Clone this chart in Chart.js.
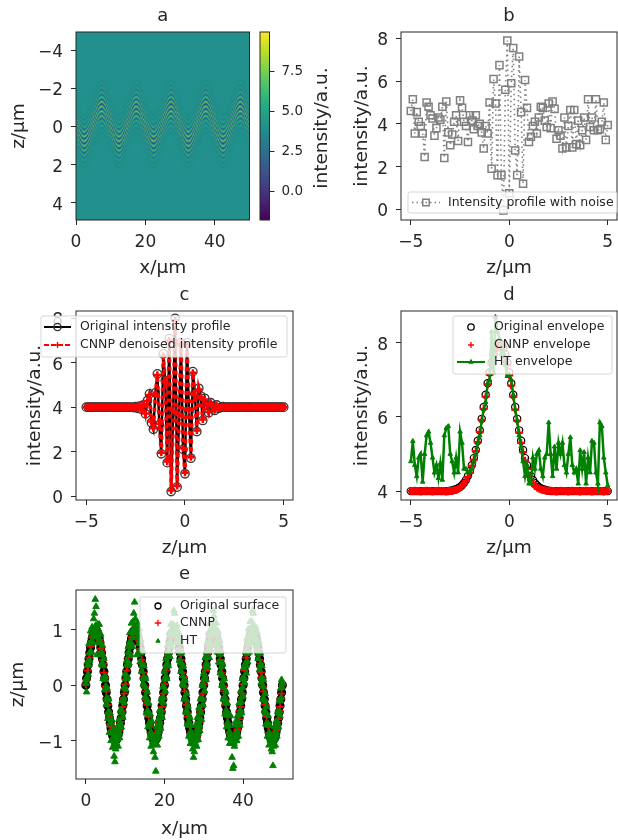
<!DOCTYPE html>
<html>
<head>
<meta charset="utf-8">
<script src="https://cdn.jsdelivr.net/npm/chart.js@4"></script>
<style>
  body { margin: 0; background: #fff; }
  #page { position: relative; width: 618px; height: 840px; overflow: hidden; }
  canvas { position: absolute; filter: blur(0.45px); }
</style>
</head>
<body>
<div id="page"></div>
<script>
// ---- tick labels
const zTicks = [-5, 0, 5];
const xTicks = [0, 20, 40];
const aYTicks = [-4, -2, 0, 2, 4];
const barTicks = [0, 2.5, 5, 7.5];
const bYTicks = [0, 2, 4, 6, 8];
const cYTicks = [0, 2, 4, 6, 8];
const dYTicks = [4, 6, 8];
const eYTicks = [-1, 0, 1];

// ---- colour bar
const viridis = ['#440154', '#482475', '#414487', '#355f8d', '#2a788e', '#21918c', '#22a884', '#44bf70', '#7ad151', '#bddf26', '#fde725'];
const barRange = [-1.8, 9.94];

// ---- depth axis shared by panels b, c, d
const zPos = [
  -5, -4.9, -4.8, -4.7, -4.6, -4.5, -4.4, -4.3, -4.2, -4.1,
  -4, -3.9, -3.8, -3.7, -3.6, -3.5, -3.4, -3.3, -3.2, -3.1,
  -3, -2.9, -2.8, -2.7, -2.6, -2.5, -2.4, -2.3, -2.2, -2.1,
  -2, -1.9, -1.8, -1.7, -1.6, -1.5, -1.4, -1.3, -1.2, -1.1,
  -1, -0.9, -0.8, -0.7, -0.6, -0.5, -0.4, -0.3, -0.2, -0.1,
  0, 0.1, 0.2, 0.3, 0.4, 0.5, 0.6, 0.7, 0.8, 0.9,
  1, 1.1, 1.2, 1.3, 1.4, 1.5, 1.6, 1.7, 1.8, 1.9,
  2, 2.1, 2.2, 2.3, 2.4, 2.5, 2.6, 2.7, 2.8, 2.9,
  3, 3.1, 3.2, 3.3, 3.4, 3.5, 3.6, 3.7, 3.8, 3.9,
  4, 4.1, 4.2, 4.3, 4.4, 4.5, 4.6, 4.7, 4.8, 4.9,
  5
];

// panel b
const noisyProfile = [
  4.6, 5.15, 3.55, 4.55, 4.1, 3.9, 3.55, 2.45, 5, 4.8,
  4.4, 4.25, 3.45, 3.8, 4.3, 4.2, 4.8, 2.4, 5.05, 3.6,
  3, 3.5, 4.1, 4.4, 3.2, 5.1, 4.75, 4.1, 3.9, 3.15,
  4.4, 4.15, 3.75, 4.4, 3.9, 4, 3.6, 2.85, 3.9, 3.55,
  5, 1.9, 6.1, 4.95, 1.6, 6.75, 1.6, -0.05, 5.6, 7.9,
  0.75, 5.9, 7.55, 2.75, 1.6, 7.15, 4.55, 1.2, 6.05, 4.75,
  3.15, 3.4, 3.9, 4.1, 3.55, 4.3, 4.8, 4.75, 4.15, 3.85,
  4.95, 3.8, 5.05, 4.7, 3.3, 3.7, 3.45, 2.85, 4.3, 2.9,
  3.9, 4.65, 2.9, 4.65, 3.05, 4.15, 3, 3.7, 4.3, 3.25,
  5.15, 3.85, 4.3, 3.7, 5.15, 3.7, 3.75, 4.1, 5, 3.25,
  3.95
];

// panel c
const originalProfile = [
  4, 4, 4, 4, 4, 4, 4, 4, 4, 4,
  4, 4, 4, 4, 4, 4, 4, 4, 4, 4,
  4, 4, 4, 4, 3.98, 4.02, 3.95, 4.05, 3.9, 4.1,
  3.7, 4.3, 4.6, 3.3, 3, 4.65, 5.5, 3.2, 1.9, 6.4,
  5.2, 1.5, 7.1, 0.2, 3.8, 8, 0.4, 3.6, 6.9, 2.1,
  1, 6.9, 3.8, 1.7, 5.6, 4.6, 2.9, 4.85, 4.5, 3.4,
  4.4, 4.1, 3.75, 4.2, 4.05, 3.85, 4.1, 3.95, 3.98, 4.02,
  4, 4, 4, 4, 4, 4, 4, 4, 4, 4,
  4, 4, 4, 4, 4, 4, 4, 4, 4, 4,
  4, 4, 4, 4, 4, 4, 4, 4, 4, 4,
  4
];
const denoisedProfile = [
  4, 4.01, 4, 3.99, 4, 4, 4.01, 4, 4, 3.99,
  4, 4, 4.01, 4, 3.99, 4, 4, 4.01, 4, 4,
  3.99, 4, 4.01, 4, 3.97, 4.03, 3.96, 4.06, 3.88, 4.12,
  3.72, 4.28, 4.55, 3.35, 3.05, 4.6, 5.45, 3.25, 1.95, 6.3,
  5.15, 1.55, 7, 0.25, 3.85, 7.9, 0.45, 3.65, 6.85, 2.15,
  1.05, 6.8, 3.85, 1.75, 5.55, 4.55, 2.95, 4.8, 4.45, 3.45,
  4.35, 4.08, 3.78, 4.18, 4.03, 3.88, 4.08, 3.97, 3.99, 4.01,
  4, 4, 3.99, 4, 4.01, 4, 4, 3.99, 4, 4.01,
  4, 4, 3.99, 4, 4, 4.01, 4, 4, 3.99, 4,
  4.01, 4, 4, 4, 3.99, 4, 4.01, 4, 4, 4,
  4
];

// panel d
const originalEnvelope = [
  4, 4, 4, 4, 4, 4, 4, 4, 4, 4,
  4, 4, 4, 4, 4, 4, 4, 4, 4, 4,
  4.01, 4.02, 4.04, 4.05, 4.08, 4.11, 4.16, 4.22, 4.3, 4.41,
  4.54, 4.7, 4.89, 5.11, 5.36, 5.64, 5.95, 6.27, 6.6, 6.91,
  7.2, 7.47, 7.69, 7.86, 7.96, 8, 7.96, 7.86, 7.69, 7.47,
  7.2, 6.91, 6.6, 6.27, 5.95, 5.64, 5.36, 5.11, 4.89, 4.7,
  4.54, 4.41, 4.3, 4.22, 4.16, 4.11, 4.08, 4.05, 4.04, 4.02,
  4.01, 4, 4, 4, 4, 4, 4, 4, 4, 4,
  4, 4, 4, 4, 4, 4, 4, 4, 4, 4,
  4, 4, 4, 4, 4, 4, 4, 4, 4, 4,
  4
];
const cnnpEnvelope = [
  4, 4, 4.01, 4, 4, 3.99, 4, 4, 4.01, 4,
  4, 3.99, 4, 4, 4.01, 4, 4, 4, 3.99, 4,
  4, 4.01, 4.02, 4.03, 4.06, 4.1, 4.14, 4.2, 4.28, 4.38,
  4.5, 4.68, 4.85, 5.08, 5.32, 5.6, 5.92, 6.22, 6.55, 6.88,
  7.15, 7.42, 7.65, 7.82, 7.92, 7.96, 7.92, 7.8, 7.62, 7.4,
  7.12, 6.85, 6.55, 6.2, 5.9, 5.58, 5.3, 5.05, 4.82, 4.6,
  4.42, 4.3, 4.2, 4.14, 4.1, 4.07, 4.05, 4.03, 4.02, 4.01,
  4, 4.01, 4, 4, 3.99, 4, 4.01, 4, 4, 4,
  3.99, 4, 4.01, 4, 4, 4, 3.99, 4, 4, 4.01,
  4, 4, 3.99, 4, 4, 4.01, 4, 4, 3.99, 4,
  4
];
const htEnvelope = [
  4.8, 5.35, 4.7, 4.4, 4.9, 5, 4.25, 5, 5.5, 5.6,
  5.3, 4.9, 4.5, 4.7, 4.35, 4.75, 4.3, 5.5, 5.7, 5.75,
  5, 4.8, 4.5, 4.9, 4.5, 5.6, 5.3, 4.6, 4.6, 4.5,
  4.5, 4.6, 4.8, 5, 5.3, 5.5, 5.9, 6.2, 6.4, 6.9,
  7, 8.3, 7.2, 8.7, 8.3, 8.1, 7.7, 7.8, 7.4, 7.1,
  7.1, 7, 6.6, 6.2, 5.9, 5.5, 5.2, 4.8, 4.4, 4.7,
  4.2, 4.2, 4.9, 4.6, 5, 5.1, 4.6, 4.4, 4.9, 5,
  5.85, 5, 4.4, 5.2, 4.6, 5.3, 5, 5.3, 4.7, 4.5,
  5, 5.45, 4.7, 4.5, 4.6, 4.2, 5.1, 4.6, 5.05, 4.2,
  4.9, 4.5, 5.35, 5.3, 4.5, 4.2, 5.85, 5.75, 4.9, 4.5,
  4.15
];

// panel e: lateral position and surface height
const xPos = [
  0, 0.2, 0.4, 0.6, 0.8, 1, 1.2, 1.4, 1.6, 1.8, 2, 2.2, 2.4, 2.6, 2.8, 3, 3.2, 3.4, 3.6, 3.8, 4, 4.2, 4.4, 4.6, 4.8,
  5, 5.2, 5.4, 5.6, 5.8, 6, 6.2, 6.4, 6.6, 6.8, 7, 7.2, 7.4, 7.6, 7.8, 8, 8.2, 8.4, 8.6, 8.8, 9, 9.2, 9.4, 9.6, 9.8,
  10, 10.2, 10.4, 10.6, 10.8, 11, 11.2, 11.4, 11.6, 11.8, 12, 12.2, 12.4, 12.6, 12.8, 13, 13.2, 13.4, 13.6, 13.8, 14, 14.2, 14.4, 14.6, 14.8,
  15, 15.2, 15.4, 15.6, 15.8, 16, 16.2, 16.4, 16.6, 16.8, 17, 17.2, 17.4, 17.6, 17.8, 18, 18.2, 18.4, 18.6, 18.8, 19, 19.2, 19.4, 19.6, 19.8,
  20, 20.2, 20.4, 20.6, 20.8, 21, 21.2, 21.4, 21.6, 21.8, 22, 22.2, 22.4, 22.6, 22.8, 23, 23.2, 23.4, 23.6, 23.8, 24, 24.2, 24.4, 24.6, 24.8,
  25, 25.2, 25.4, 25.6, 25.8, 26, 26.2, 26.4, 26.6, 26.8, 27, 27.2, 27.4, 27.6, 27.8, 28, 28.2, 28.4, 28.6, 28.8, 29, 29.2, 29.4, 29.6, 29.8,
  30, 30.2, 30.4, 30.6, 30.8, 31, 31.2, 31.4, 31.6, 31.8, 32, 32.2, 32.4, 32.6, 32.8, 33, 33.2, 33.4, 33.6, 33.8, 34, 34.2, 34.4, 34.6, 34.8,
  35, 35.2, 35.4, 35.6, 35.8, 36, 36.2, 36.4, 36.6, 36.8, 37, 37.2, 37.4, 37.6, 37.8, 38, 38.2, 38.4, 38.6, 38.8, 39, 39.2, 39.4, 39.6, 39.8,
  40, 40.2, 40.4, 40.6, 40.8, 41, 41.2, 41.4, 41.6, 41.8, 42, 42.2, 42.4, 42.6, 42.8, 43, 43.2, 43.4, 43.6, 43.8, 44, 44.2, 44.4, 44.6, 44.8,
  45, 45.2, 45.4, 45.6, 45.8, 46, 46.2, 46.4, 46.6, 46.8, 47, 47.2, 47.4, 47.6, 47.8, 48, 48.2, 48.4, 48.6, 48.8, 49, 49.2, 49.4, 49.6, 49.8,
  50
];
const originalSurface = [
  0, 0.13, 0.25, 0.37, 0.48, 0.59, 0.68, 0.77, 0.84, 0.9, 0.95, 0.98, 1, 1, 0.98, 0.95, 0.9, 0.84, 0.77, 0.68, 0.59, 0.48, 0.37, 0.25, 0.13,
  0, -0.13, -0.25, -0.37, -0.48, -0.59, -0.68, -0.77, -0.84, -0.9, -0.95, -0.98, -1, -1, -0.98, -0.95, -0.9, -0.84, -0.77, -0.68, -0.59, -0.48, -0.37, -0.25, -0.13,
  0, 0.13, 0.25, 0.37, 0.48, 0.59, 0.68, 0.77, 0.84, 0.9, 0.95, 0.98, 1, 1, 0.98, 0.95, 0.9, 0.84, 0.77, 0.68, 0.59, 0.48, 0.37, 0.25, 0.13,
  0, -0.13, -0.25, -0.37, -0.48, -0.59, -0.68, -0.77, -0.84, -0.9, -0.95, -0.98, -1, -1, -0.98, -0.95, -0.9, -0.84, -0.77, -0.68, -0.59, -0.48, -0.37, -0.25, -0.13,
  0, 0.13, 0.25, 0.37, 0.48, 0.59, 0.68, 0.77, 0.84, 0.9, 0.95, 0.98, 1, 1, 0.98, 0.95, 0.9, 0.84, 0.77, 0.68, 0.59, 0.48, 0.37, 0.25, 0.13,
  0, -0.13, -0.25, -0.37, -0.48, -0.59, -0.68, -0.77, -0.84, -0.9, -0.95, -0.98, -1, -1, -0.98, -0.95, -0.9, -0.84, -0.77, -0.68, -0.59, -0.48, -0.37, -0.25, -0.13,
  0, 0.13, 0.25, 0.37, 0.48, 0.59, 0.68, 0.77, 0.84, 0.9, 0.95, 0.98, 1, 1, 0.98, 0.95, 0.9, 0.84, 0.77, 0.68, 0.59, 0.48, 0.37, 0.25, 0.13,
  0, -0.13, -0.25, -0.37, -0.48, -0.59, -0.68, -0.77, -0.84, -0.9, -0.95, -0.98, -1, -1, -0.98, -0.95, -0.9, -0.84, -0.77, -0.68, -0.59, -0.48, -0.37, -0.25, -0.13,
  0, 0.13, 0.25, 0.37, 0.48, 0.59, 0.68, 0.77, 0.84, 0.9, 0.95, 0.98, 1, 1, 0.98, 0.95, 0.9, 0.84, 0.77, 0.68, 0.59, 0.48, 0.37, 0.25, 0.13,
  0, -0.13, -0.25, -0.37, -0.48, -0.59, -0.68, -0.77, -0.84, -0.9, -0.95, -0.98, -1, -1, -0.98, -0.95, -0.9, -0.84, -0.77, -0.68, -0.59, -0.48, -0.37, -0.25, -0.13,
  0
];
const cnnpSurface = [
  0.02, 0.1, 0.27, 0.35, 0.5, 0.57, 0.7, 0.75, 0.86, 0.88, 0.97, 0.96, 1.03, 0.98, 1, 0.93, 0.92, 0.82, 0.79, 0.66, 0.61, 0.46, 0.39, 0.23, 0.15,
  -0.02, -0.11, -0.27, -0.35, -0.5, -0.57, -0.7, -0.75, -0.86, -0.88, -0.97, -0.96, -1.03, -0.98, -1, -0.93, -0.92, -0.82, -0.79, -0.66, -0.61, -0.46, -0.39, -0.23, -0.15,
  0.02, 0.11, 0.27, 0.35, 0.5, 0.57, 0.7, 0.75, 0.86, 0.88, 0.97, 0.96, 1.02, 0.98, 1, 0.93, 0.92, 0.82, 0.79, 0.66, 0.61, 0.46, 0.39, 0.23, 0.15,
  -0.02, -0.11, -0.27, -0.35, -0.5, -0.57, -0.7, -0.75, -0.86, -0.88, -0.97, -0.96, -1.02, -0.98, -1, -0.93, -0.92, -0.82, -0.79, -0.66, -0.61, -0.46, -0.39, -0.23, -0.15,
  0.02, 0.11, 0.27, 0.35, 0.5, 0.57, 0.7, 0.75, 0.86, 0.88, 0.97, 0.96, 1.02, 0.98, 1, 0.93, 0.92, 0.82, 0.79, 0.66, 0.61, 0.46, 0.39, 0.23, 0.15,
  -0.02, -0.11, -0.27, -0.35, -0.5, -0.57, -0.7, -0.75, -0.86, -0.88, -0.97, -0.96, -1.02, -0.98, -1, -0.93, -0.92, -0.82, -0.79, -0.66, -0.61, -0.46, -0.39, -0.23, -0.15,
  0.02, 0.11, 0.27, 0.35, 0.5, 0.57, 0.7, 0.75, 0.86, 0.88, 0.97, 0.96, 1.02, 0.98, 1, 0.93, 0.92, 0.82, 0.79, 0.66, 0.61, 0.46, 0.39, 0.23, 0.15,
  -0.02, -0.11, -0.27, -0.35, -0.5, -0.57, -0.7, -0.75, -0.86, -0.88, -0.97, -0.96, -1.02, -0.98, -1, -0.93, -0.92, -0.82, -0.79, -0.66, -0.61, -0.46, -0.39, -0.23, -0.15,
  0.02, 0.11, 0.27, 0.35, 0.5, 0.57, 0.7, 0.75, 0.86, 0.88, 0.97, 0.96, 1.02, 0.98, 1, 0.93, 0.92, 0.82, 0.79, 0.66, 0.61, 0.46, 0.39, 0.23, 0.15,
  -0.02, -0.11, -0.27, -0.35, -0.5, -0.57, -0.7, -0.75, -0.86, -0.88, -0.97, -0.96, -1.02, -0.98, -1, -0.93, -0.92, -0.82, -0.79, -0.66, -0.61, -0.46, -0.39, -0.23, -0.15,
  0
];
const htSurface = [
  0.03, -0.12, 0.42, 0.2, 0.75, 0.45, 0.98, 0.6, 1.05, 0.78, 1.2, 1.3, 1.55, 1.42, 0.55, 1.1, 0.78, 1.1, 0.55, 0.92, 0.38, 0.72, 0.12, 0.48, -0.08,
  0.15, -0.35, -0.05, -0.6, -0.25, -0.85, -0.5, -1, -0.62, -1.12, -0.8, -1.28, -1.38, -1.15, -1.05, -0.75, -1.1, -0.62, -0.95, -0.45, -0.75, -0.28, -0.58, -0.05, -0.32,
  0.2, -0.08, 0.45, 0.15, 0.7, 0.4, 0.95, 0.55, 1.12, 0.7, 1.15, 1.3, 1.5, 1.2, 1.05, 0.55, 1.12, 0.6, 1.02, 0.42, 0.82, 0.25, 0.62, 0.02, 0.35,
  -0.22, 0.12, -0.5, -0.12, -0.75, -0.32, -0.95, -0.52, -1.1, -0.65, -1.02, -1.2, -1.05, -1.3, -1.55, -0.75, -1.08, -0.62, -0.92, -0.45, -0.78, -0.25, -0.58, -0.02, -0.32,
  0.25, -0.1, 0.48, 0.12, 0.72, 0.35, 0.95, 0.52, 1.1, 0.7, 1.02, 1.1, 1.35, 1.3, 1.05, 0.78, 1.08, 0.62, 0.95, 0.45, 0.8, 0.25, 0.6, 0.02, 0.35,
  -0.25, 0.1, -0.48, -0.15, -0.7, -0.38, -0.92, -0.58, -1.05, -0.72, -0.92, -1.15, -1.3, -1.2, -1.05, -0.72, -1.1, -0.58, -0.98, -0.4, -0.82, -0.25, -0.62, 0, -0.35,
  0.22, -0.1, 0.5, 0.1, 0.75, 0.32, 0.95, 0.5, 1.12, 0.65, 1.02, 1.1, 1.35, 1.25, 1.05, 0.72, 1.12, 0.6, 0.98, 0.42, 0.82, 0.22, 0.62, 0, 0.38,
  -0.25, 0.12, -0.52, -0.12, -0.75, -0.32, -0.95, -0.55, -1.05, -0.55, -1.05, -1.3, -1.5, -1.45, -1.1, -0.72, -0.65, -1, -0.55, -0.92, -0.32, -0.72, -0.1, -0.5, 0.12,
  -0.2, 0.32, 0.05, 0.6, 0.22, 0.85, 0.42, 1.02, 0.6, 1.15, 0.85, 1.15, 1.35, 1.3, 1.02, 0.8, 1.05, 0.65, 0.95, 0.48, 0.78, 0.28, 0.58, 0.05, 0.35,
  -0.25, 0.1, -0.45, -0.15, -0.7, -0.38, -0.92, -0.55, -1.08, -0.72, -1, -1.15, -1.2, -1.45, -1.1, -0.75, -1.08, -0.65, -0.92, -0.48, -0.75, -0.28, -0.55, -0.05, 0.1,
  0.05
];
// HT samples that fall between the ones above
const htMidX = [
  0.1, 0.3, 0.5, 0.7, 0.9, 1.1, 1.3, 1.5, 1.7, 1.9, 2.1, 2.3, 2.5, 2.7, 2.9, 3.1, 3.3, 3.5, 3.7, 3.9, 4.1, 4.3, 4.5, 4.7, 4.9,
  5.1, 5.3, 5.5, 5.7, 5.9, 6.1, 6.3, 6.5, 6.7, 6.9, 7.1, 7.3, 7.5, 7.7, 7.9, 8.1, 8.3, 8.5, 8.7, 8.9, 9.1, 9.3, 9.5, 9.7, 9.9,
  10.1, 10.3, 10.5, 10.7, 10.9, 11.1, 11.3, 11.5, 11.7, 11.9, 12.1, 12.3, 12.5, 12.7, 12.9, 13.1, 13.3, 13.5, 13.7, 13.9, 14.1, 14.3, 14.5, 14.7, 14.9,
  15.1, 15.3, 15.5, 15.7, 15.9, 16.1, 16.3, 16.5, 16.7, 16.9, 17.1, 17.3, 17.5, 17.7, 17.9, 18.1, 18.3, 18.5, 18.7, 18.9, 19.1, 19.3, 19.5, 19.7, 19.9,
  20.1, 20.3, 20.5, 20.7, 20.9, 21.1, 21.3, 21.5, 21.7, 21.9, 22.1, 22.3, 22.5, 22.7, 22.9, 23.1, 23.3, 23.5, 23.7, 23.9, 24.1, 24.3, 24.5, 24.7, 24.9,
  25.1, 25.3, 25.5, 25.7, 25.9, 26.1, 26.3, 26.5, 26.7, 26.9, 27.1, 27.3, 27.5, 27.7, 27.9, 28.1, 28.3, 28.5, 28.7, 28.9, 29.1, 29.3, 29.5, 29.7, 29.9,
  30.1, 30.3, 30.5, 30.7, 30.9, 31.1, 31.3, 31.5, 31.7, 31.9, 32.1, 32.3, 32.5, 32.7, 32.9, 33.1, 33.3, 33.5, 33.7, 33.9, 34.1, 34.3, 34.5, 34.7, 34.9,
  35.1, 35.3, 35.5, 35.7, 35.9, 36.1, 36.3, 36.5, 36.7, 36.9, 37.1, 37.3, 37.5, 37.7, 37.9, 38.1, 38.3, 38.5, 38.7, 38.9, 39.1, 39.3, 39.5, 39.7, 39.9,
  40.1, 40.3, 40.5, 40.7, 40.9, 41.1, 41.3, 41.5, 41.7, 41.9, 42.1, 42.3, 42.5, 42.7, 42.9, 43.1, 43.3, 43.5, 43.7, 43.9, 44.1, 44.3, 44.5, 44.7, 44.9,
  45.1, 45.3, 45.5, 45.7, 45.9, 46.1, 46.3, 46.5, 46.7, 46.9, 47.1, 47.3, 47.5, 47.7, 47.9, 48.1, 48.3, 48.5, 48.7, 48.9, 49.1, 49.3, 49.5, 49.7, 49.9
];
const htMidSurface = [
  0.1, 0.15, 0.36, 0.38, 0.58, 0.6, 0.78, 0.76, 0.94, 0.88, 1.02, 0.95, 1.08, 0.95, 1.03, 0.88, 0.92, 0.76, 0.78, 0.6, 0.58, 0.38, 0.35, 0.15, 0.1,
  -0.02, -0.23, -0.27, -0.48, -0.5, -0.7, -0.68, -0.86, -0.84, -0.98, -0.93, -1.05, -0.95, -1.05, -0.92, -0.98, -0.82, -0.86, -0.68, -0.7, -0.5, -0.48, -0.27, -0.23, -0.02,
  0.12, 0.14, 0.38, 0.36, 0.6, 0.58, 0.8, 0.74, 0.95, 0.86, 1.03, 0.96, 1.06, 0.97, 1.02, 0.86, 0.94, 0.75, 0.8, 0.58, 0.6, 0.36, 0.37, 0.14, 0.12,
  -0.03, -0.22, -0.29, -0.46, -0.52, -0.68, -0.7, -0.84, -0.86, -0.95, -0.95, -1.03, -0.97, -1.04, -0.94, -0.96, -0.84, -0.84, -0.7, -0.68, -0.52, -0.46, -0.29, -0.22, -0.03,
  0.11, 0.16, 0.35, 0.4, 0.57, 0.62, 0.77, 0.78, 0.93, 0.9, 1, 0.97, 1.05, 0.96, 1, 0.9, 0.91, 0.78, 0.77, 0.62, 0.57, 0.4, 0.34, 0.17, 0.09,
  -0.01, -0.24, -0.26, -0.5, -0.49, -0.72, -0.67, -0.88, -0.83, -0.97, -0.92, -1.06, -0.94, -1.03, -0.91, -0.99, -0.8, -0.87, -0.66, -0.72, -0.48, -0.5, -0.25, -0.25, -0.01,
  0.1, 0.17, 0.34, 0.41, 0.56, 0.63, 0.76, 0.79, 0.92, 0.91, 1.01, 0.98, 1.04, 0.98, 0.99, 0.91, 0.9, 0.79, 0.76, 0.63, 0.56, 0.41, 0.33, 0.18, 0.08,
  -0.04, -0.21, -0.3, -0.45, -0.53, -0.67, -0.72, -0.83, -0.87, -0.94, -0.96, -1.02, -0.98, -1.05, -0.95, -0.95, -0.85, -0.83, -0.71, -0.67, -0.53, -0.45, -0.3, -0.21, -0.04,
  0.13, 0.13, 0.39, 0.35, 0.61, 0.57, 0.81, 0.73, 0.96, 0.85, 1.04, 0.94, 1.07, 0.94, 1.04, 0.85, 0.95, 0.73, 0.81, 0.57, 0.61, 0.35, 0.38, 0.13, 0.13,
  -0.02, -0.24, -0.28, -0.49, -0.51, -0.71, -0.69, -0.87, -0.85, -0.99, -0.94, -1.04, -0.96, -1.06, -0.93, -0.97, -0.83, -0.85, -0.69, -0.69, -0.51, -0.47, -0.28, -0.22, -0.03
];

// panel a: one fringe packet, it sits on the surface in every column
const fringeOffset = [
  -1.5, -1.45, -1.4, -1.35, -1.3, -1.25, -1.2, -1.15, -1.1, -1.05,
  -1, -0.95, -0.9, -0.85, -0.8, -0.75, -0.7, -0.65, -0.6, -0.55,
  -0.5, -0.45, -0.4, -0.35, -0.3, -0.25, -0.2, -0.15, -0.1, -0.05,
  0,
  0.05, 0.1, 0.15, 0.2, 0.25, 0.3, 0.35, 0.4, 0.45, 0.5,
  0.55, 0.6, 0.65, 0.7, 0.75, 0.8, 0.85, 0.9, 0.95, 1,
  1.05, 1.1, 1.15, 1.2, 1.25, 1.3, 1.35, 1.4, 1.45, 1.5
];
const fringeValue = [
  4.15, 4.06, 3.81, 3.77, 4.1, 4.4, 4.15, 3.55, 3.47, 4.23,
  4.88, 4.31, 3.08, 2.96, 4.44, 5.59, 4.55, 2.43, 2.28, 4.71,
  6.48, 4.82, 1.73, 1.61, 4.95, 7.2, 5.02, 1.26, 1.21, 5.08,
  7.5,
  5.08, 1.21, 1.26, 5.02, 7.2, 4.95, 1.61, 1.73, 4.82, 6.48,
  4.71, 2.28, 2.43, 4.55, 5.59, 4.44, 2.96, 3.08, 4.31, 4.88,
  4.23, 3.47, 3.55, 4.15, 4.4, 4.1, 3.77, 3.81, 4.06, 4.15
];

const FONT = 'DejaVu Sans';
const INK = '#262626';
const zip = (xs, ys) => xs.map((x, i) => ({ x: x, y: ys[i] }));
const minus = v => String(v).replace('-', '\u2212');

function viridisAt(v) {
  const t = Math.max(0, Math.min(0.9999, (v - barRange[0]) / (barRange[1] - barRange[0]))) * (viridis.length - 1);
  const i = Math.floor(t), f = t - i;
  const ch = (hex, k) => parseInt(hex.substr(1 + k * 2, 2), 16);
  const mix = k => Math.round(ch(viridis[i], k) * (1 - f) + ch(viridis[i + 1], k) * f);
  return 'rgb(' + mix(0) + ',' + mix(1) + ',' + mix(2) + ')';
}

// frame, field colour, legend box and rotated side title
function decor(spec) {
  return {
    id: 'decor',
    beforeDatasetsDraw(chart) {
      if (!spec.field) return;
      const a = chart.chartArea;
      chart.ctx.fillStyle = spec.field;
      chart.ctx.fillRect(a.left, a.top, a.width, a.height);
    },
    afterDatasetsDraw(chart) {
      const ctx = chart.ctx, a = chart.chartArea;
      ctx.save();
      ctx.strokeStyle = INK;
      ctx.lineWidth = 1;
      ctx.strokeRect(a.left, a.top, a.width, a.height);
      if (spec.legend) drawLegend(ctx, spec);
      if (spec.sideTitle) {
        ctx.translate(spec.sideTitle.x - spec.left, spec.sideTitle.y - spec.top);
        ctx.rotate(-Math.PI / 2);
        ctx.font = '18.5px "' + FONT + '"';
        ctx.fillStyle = INK;
        ctx.textAlign = 'center';
        ctx.textBaseline = 'middle';
        ctx.fillText(spec.sideTitle.text, 0, 0);
      }
      ctx.restore();
    }
  };
}

function drawLegend(ctx, spec) {
  const L = spec.legend;
  const ox = spec.left, oy = spec.top;
  ctx.beginPath();
  ctx.roundRect(L.box[0] - ox, L.box[1] - oy, L.box[2], L.box[3], 2);
  ctx.fillStyle = 'rgba(255,255,255,0.8)';
  ctx.fill();
  ctx.strokeStyle = 'rgba(204,204,204,0.8)';
  ctx.lineWidth = 1;
  ctx.stroke();
  L.rows.forEach(r => {
    const y = r.y - oy;
    if (r.line) {
      ctx.beginPath();
      ctx.setLineDash(r.line.dash || []);
      ctx.strokeStyle = r.line.color;
      ctx.lineWidth = r.line.width;
      ctx.moveTo(L.handle[0] - ox, y);
      ctx.lineTo(L.handle[1] - ox, y);
      ctx.stroke();
      ctx.setLineDash([]);
    }
    ctx.strokeStyle = r.mark.color;
    ctx.fillStyle = r.mark.fill || 'rgba(0,0,0,0)';
    ctx.lineWidth = r.mark.width;
    Chart.helpers.drawPoint(ctx, { pointStyle: r.mark.style, radius: r.mark.radius, rotation: 0, borderWidth: r.mark.width }, (L.handle[0] + L.handle[1]) / 2 - ox, y);
    ctx.fillStyle = INK;
    ctx.font = '12.5px "' + FONT + '"';
    ctx.textAlign = 'left';
    ctx.textBaseline = 'middle';
    ctx.fillText(r.label, L.textX - ox, y);
  });
}

function axis(values, range, extra) {
  return Object.assign({
    type: 'linear',
    min: range[0],
    max: range[1],
    afterBuildTicks(scale) { scale.ticks = values.map(v => ({ value: v })); },
    grid: { drawOnChartArea: false, drawTicks: true, tickLength: 5, tickColor: INK, tickWidth: 1 },
    border: { display: false },
    ticks: { color: INK, font: { family: FONT, size: 17 }, padding: 7, maxRotation: 0, autoSkip: false, callback: minus }
  }, extra);
}

function panel(spec, datasets, xValues, xRange, xTitle, yValues, yRange, yTitle, yExtra) {
  const canvas = document.createElement('canvas');
  canvas.width = spec.width;
  canvas.height = spec.height;
  canvas.style.left = spec.left + 'px';
  canvas.style.top = spec.top + 'px';
  document.getElementById('page').appendChild(canvas);
  const p = spec.plot;
  const titleFont = { family: FONT, size: 18.5, weight: 'normal' };
  const yTickStyle = { color: INK, font: { family: FONT, size: 17 }, padding: 8, labelOffset: 2.5, autoSkip: false, callback: minus };
  new Chart(canvas, {
    type: 'scatter',
    data: { datasets: datasets },
    plugins: [decor(spec)],
    options: {
      responsive: false,
      animation: false,
      events: [],
      layout: { padding: { right: spec.left + spec.width - p.r, top: 0, left: 0, bottom: 0 } },
      plugins: {
        legend: { display: false },
        tooltip: { enabled: false },
        title: {
          display: true,
          text: spec.title,
          fullSize: false,
          color: INK,
          font: { family: FONT, size: 18, weight: 'normal' },
          padding: { top: p.t - spec.top - 26, bottom: 4.4 }
        }
      },
      scales: {
        x: axis(xValues, xRange, {
          title: { display: true, text: xTitle, color: INK, font: titleFont, padding: 0 },
          afterFit(s) { s.height = spec.top + spec.height - p.b; }
        }),
        y: axis(yValues, yRange, Object.assign({
          title: { display: true, text: yTitle, color: INK, font: titleFont, padding: 0 },
          ticks: yTickStyle,
          afterFit(s) { s.width = p.l - spec.left; }
        }, yExtra))
      }
    }
  });
}

// ---- panel a: heat map
const cells = [], cellColors = [];
xPos.forEach((x, i) => {
  const centre = originalSurface[i] * 0.91 - 0.13;
  fringeOffset.forEach((d, j) => {
    cells.push({ x: x, y: centre + d });
    cellColors.push(viridisAt(fringeValue[j]));
  });
});
panel(
  { title: 'a', left: 8, top: 0, width: 247, height: 279, plot: { l: 76, t: 32, r: 249.5, b: 220 }, field: viridisAt(4) },
  [{ data: cells, pointStyle: 'rect', pointRadius: 1, pointBorderWidth: 0, backgroundColor: cellColors, borderColor: 'rgba(0,0,0,0)' }],
  xTicks, [0, 50], 'x/\u03bcm', aYTicks, [-4.95, 4.9], 'z/\u03bcm', { reverse: true }
);

// ---- colour bar next to panel a
(function () {
  const spec = { left: 255, top: 0, width: 80, height: 279, plot: { l: 260, t: 32, r: 269.5, b: 220 }, sideTitle: { text: 'intensity/a.u.', x: 322, y: 128 } };
  const canvas = document.createElement('canvas');
  canvas.width = spec.width;
  canvas.height = spec.height;
  canvas.style.left = spec.left + 'px';
  canvas.style.top = spec.top + 'px';
  document.getElementById('page').appendChild(canvas);
  new Chart(canvas, {
    type: 'bar',
    data: {
      labels: [''],
      datasets: [{
        data: [barRange],
        barPercentage: 1,
        categoryPercentage: 1,
        backgroundColor(ctx) {
          const area = ctx.chart.chartArea;
          if (!area) return viridis[5];
          const g = ctx.chart.ctx.createLinearGradient(0, area.bottom, 0, area.top);
          viridis.forEach((c, i) => g.addColorStop(i / (viridis.length - 1), c));
          return g;
        }
      }]
    },
    plugins: [decor(spec)],
    options: {
      responsive: false,
      animation: false,
      events: [],
      layout: { padding: { left: spec.plot.l - spec.left, top: spec.plot.t - spec.top, bottom: spec.top + spec.height - spec.plot.b, right: 0 } },
      plugins: { legend: { display: false }, tooltip: { enabled: false } },
      scales: {
        x: { display: false },
        y: axis(barTicks, barRange, {
          position: 'right',
          ticks: { color: INK, font: { family: FONT, size: 13.5 }, padding: 7, labelOffset: 0.5, callback: v => v.toFixed(1) },
          afterFit(s) { s.width = spec.left + spec.width - spec.plot.r; }
        })
      }
    }
  });
})();

// ---- panel b
panel(
  { title: 'b', left: 351, top: 0, width: 281, height: 279, plot: { l: 401, t: 32, r: 617, b: 220 },
    legend: { box: [408, 192, 209, 21], handle: [412, 440], textX: 448, rows: [
      { label: 'Intensity profile with noise', y: 202.5, line: { color: '#808080', width: 1.5, dash: [1.5, 3] }, mark: { style: 'rect', radius: 4.6, color: '#808080', width: 1.5 } }
    ] } },
  [{ data: zip(zPos, noisyProfile), showLine: true, borderColor: '#808080', borderWidth: 1.6, borderDash: [1.5, 3.5],
     pointStyle: 'rect', pointRadius: 5, pointBorderWidth: 1.5, pointBorderColor: '#808080', pointBackgroundColor: 'rgba(0,0,0,0)' }],
  zTicks, [-5.5, 5.47], 'z/\u03bcm', bYTicks, [-0.5, 8.3], 'intensity/a.u.'
);

// ---- panel c
panel(
  { title: 'c', left: 24, top: 280, width: 306, height: 279, plot: { l: 76, t: 311, r: 293, b: 500 },
    legend: { box: [41, 316, 246, 41], handle: [44, 71], textX: 80, rows: [
      { label: 'Original intensity profile', y: 327, line: { color: '#000', width: 2 }, mark: { style: 'circle', radius: 3.6, color: '#333', width: 1.4 } },
      { label: 'CNNP denoised intensity profile', y: 345, line: { color: '#f00', width: 2, dash: [5, 2] }, mark: { style: 'cross', radius: 3, color: '#f00', width: 1.3 } }
    ] } },
  [
    { data: zip(zPos, denoisedProfile), showLine: true, borderColor: '#f00', borderWidth: 3.6, borderDash: [4, 4],
      pointStyle: 'cross', pointRadius: 3.6, pointBorderWidth: 2.5, pointBorderColor: '#f00' },
    { data: zip(zPos, originalProfile), showLine: true, borderColor: '#000', borderWidth: 2.4,
      pointStyle: 'circle', pointRadius: 4.2, pointBorderWidth: 1.3, pointBorderColor: '#333', pointBackgroundColor: 'rgba(0,0,0,0)' }
  ],
  zTicks, [-5.52, 5.47], 'z/\u03bcm', cYTicks, [-0.18, 8.33], 'intensity/a.u.'
);

// ---- panel d
panel(
  { title: 'd', left: 351, top: 280, width: 281, height: 279, plot: { l: 401, t: 311, r: 617, b: 500 },
    legend: { box: [453, 316, 159, 58], handle: [457, 485], textX: 494, rows: [
      { label: 'Original envelope', y: 327, mark: { style: 'circle', radius: 3.2, color: '#000', width: 1.3 } },
      { label: 'CNNP envelope', y: 345, mark: { style: 'cross', radius: 3, color: '#f00', width: 1.3 } },
      { label: 'HT envelope', y: 362, line: { color: '#008000', width: 2 }, mark: { style: 'triangle', radius: 2.5, color: '#008000', width: 1, fill: '#008000' } }
    ] } },
  [
    { data: zip(zPos, htEnvelope), showLine: true, borderColor: '#008000', borderWidth: 2.5,
      pointStyle: 'triangle', pointRadius: 2.6, pointBorderWidth: 1, pointBorderColor: '#008000', pointBackgroundColor: '#008000' },
    { data: zip(zPos, cnnpEnvelope), pointStyle: 'cross', pointRadius: 4, pointBorderWidth: 2.2, pointBorderColor: '#f00' },
    { data: zip(zPos, originalEnvelope), pointStyle: 'circle', pointRadius: 3.6, pointBorderWidth: 1.2, pointBorderColor: '#000', pointBackgroundColor: 'rgba(0,0,0,0)' }
  ],
  zTicks, [-5.5, 5.47], 'z/\u03bcm', dYTicks, [3.76, 8.86], 'intensity/a.u.'
);

// ---- panel e
panel(
  { title: 'e', left: 7, top: 560, width: 323, height: 280, plot: { l: 76, t: 590, r: 293, b: 779 },
    legend: { box: [140, 597, 146, 56], handle: [144, 172], textX: 180, rows: [
      { label: 'Original surface', y: 606, mark: { style: 'circle', radius: 3, color: '#000', width: 1.3 } },
      { label: 'CNNP', y: 623, mark: { style: 'cross', radius: 3.2, color: '#f00', width: 1.3 } },
      { label: 'HT', y: 641, mark: { style: 'triangle', radius: 2.4, color: '#008000', width: 1, fill: '#008000' } }
    ] } },
  [
    { data: zip(xPos, htSurface).concat(zip(htMidX, htMidSurface)), pointStyle: 'triangle', pointRadius: 3.8, pointBorderWidth: 1, pointBorderColor: '#008000', pointBackgroundColor: '#008000' },
    { data: zip(xPos, cnnpSurface), pointStyle: 'cross', pointRadius: 3.8, pointBorderWidth: 1.8, pointBorderColor: '#f00' },
    { data: zip(xPos, originalSurface), pointStyle: 'circle', pointRadius: 3.8, pointBorderWidth: 1.5, pointBorderColor: '#000', pointBackgroundColor: '#000' }
  ],
  xTicks, [-2.5, 52.7], 'x/\u03bcm', eYTicks, [-1.69, 1.72], 'z/\u03bcm'
);
</script>
</body>
</html>
